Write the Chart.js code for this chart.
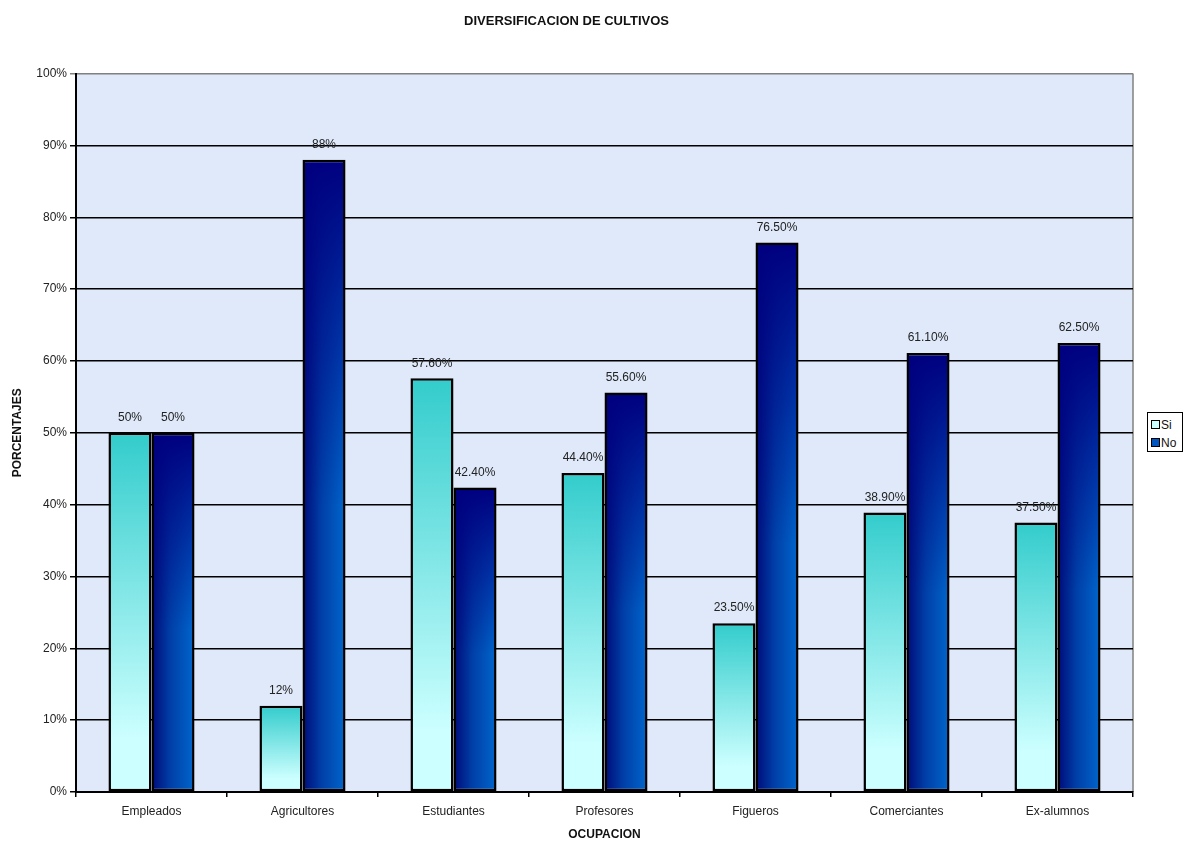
<!DOCTYPE html>
<html>
<head>
<meta charset="utf-8">
<script src="https://cdn.jsdelivr.net/npm/chart.js@4.4.1/dist/chart.umd.min.js"></script>
<style>
    body { margin: 0; background: #fff; font-family: "Liberation Sans", Arial, sans-serif; }
    #wrap { position: relative; width: 1183px; height: 842px; }
    #legend {
        position: absolute; left: 1147px; top: 412px; width: 36px; height: 40px;
        border: 1.5px solid #000; background: #fff; font-size: 12px; color: #111;
        box-sizing: border-box; padding-top: 3px;
    }
    #legend div { height: 18px; line-height: 18px; padding-left: 3px; }
    #legend span { display: inline-block; width: 7px; height: 7px; border: 1px solid #000; margin-right: 1px; vertical-align: 0; }
</style>
</head>
<body>
<div id="wrap">
    <canvas id="chart" width="1183" height="842"></canvas>
    <div id="legend">
        <div><span style="background:#ccffff"></span>Si</div>
        <div><span style="background:#0055c0"></span>No</div>
    </div>
</div>
<script>
// Diversificacion de cultivos - Si / No by ocupacion
const categories = ["Empleados", "Agricultores", "Estudiantes", "Profesores", "Figueros", "Comerciantes", "Ex-alumnos"];
const siValues = [50, 12, 57.6, 44.4, 23.5, 38.9, 37.5];
const noValues = [50, 88, 42.4, 55.6, 76.5, 61.1, 62.5];
const yTicks = [0, 10, 20, 30, 40, 50, 60, 70, 80, 90, 100];

const FONT = "'Liberation Sans', Arial, sans-serif";
const fmtPct = (v) => (Number.isInteger(v) ? v : v.toFixed(2)) + "%";

// plot area background
const plotBg = {
    id: "plotBg",
    beforeDraw(chart) {
        const { ctx, chartArea: a } = chart;
        ctx.save();
        ctx.fillStyle = "#dfe9f9";
        ctx.fillRect(a.left, a.top, a.right - a.left, a.bottom - a.top);
        ctx.strokeStyle = "#808080";
        ctx.lineWidth = 1.5;
        ctx.beginPath();
        ctx.moveTo(a.right, a.top);
        ctx.lineTo(a.right, a.bottom);
        ctx.stroke();
        ctx.restore();
    }
};

// per-bar gradients like the Excel fill
const barFill = {
    id: "barFill",
    beforeDatasetsDraw(chart) {
        const ctx = chart.ctx;
        chart.data.datasets.forEach((ds, di) => {
            chart.getDatasetMeta(di).data.forEach(el => {
                const left = el.x - el.width / 2;
                const h = Math.max(1, el.base - el.y);
                let fill;
                if (di === 0) {
                    fill = ctx.createLinearGradient(0, el.y, 0, el.base);
                    fill.addColorStop(0, "#33cccc");
                    fill.addColorStop(0.85, "#ccffff");
                    fill.addColorStop(1, "#ccffff");
                } else {
                    const off = document.createElement("canvas");
                    off.width = Math.ceil(el.width);
                    off.height = Math.ceil(h);
                    const o = off.getContext("2d");
                    const hg = o.createLinearGradient(0, 0, el.width, 0);
                    hg.addColorStop(0, "#000a78");
                    hg.addColorStop(0.45, "#0040a8");
                    hg.addColorStop(1, "#0066cc");
                    o.fillStyle = hg;
                    o.fillRect(0, 0, off.width, off.height);
                    const vg = o.createLinearGradient(0, 0, 0, h);
                    vg.addColorStop(0, "rgba(0,0,128,1)");
                    vg.addColorStop(0.55, "rgba(0,0,128,0)");
                    o.fillStyle = vg;
                    o.fillRect(0, 0, off.width, off.height);
                    fill = ctx.createPattern(off, "no-repeat");
                    fill.setTransform(new DOMMatrix().translate(left, el.y));
                }
                el.options = Object.assign({}, el.options, { backgroundColor: fill });
            });
        });
    }
};

// value labels over each bar
const valueLabels = {
    id: "valueLabels",
    afterDatasetsDraw(chart) {
        const ctx = chart.ctx;
        ctx.save();
        ctx.font = "12px " + FONT;
        ctx.fillStyle = "#222";
        ctx.textAlign = "center";
        ctx.textBaseline = "bottom";
        chart.data.datasets.forEach((ds, di) => {
            chart.getDatasetMeta(di).data.forEach((el, i) => {
                ctx.fillText(fmtPct(ds.data[i]), el.x, el.y - 9);
            });
        });
        ctx.restore();
    }
};

new Chart(document.getElementById("chart"), {
    type: "bar",
    data: {
        labels: categories,
        datasets: [
            { label: "Si", data: siValues, backgroundColor: "#33cccc" },
            { label: "No", data: noValues, backgroundColor: "#000080" }
        ]
    },
    options: {
        responsive: false,
        animation: false,
        layout: { padding: { right: 50 } },
        datasets: {
            bar: {
                categoryPercentage: 0.57,
                barPercentage: 1,
                borderColor: "#000",
                borderWidth: 2.5,
                borderSkipped: false
            }
        },
        plugins: {
            legend: { display: false },
            tooltip: { enabled: false },
            title: {
                display: true,
                text: "DIVERSIFICACION DE CULTIVOS",
                color: "#111",
                font: { family: FONT, size: 13, weight: "bold" },
                padding: { top: 14, bottom: 44 }
            }
        },
        scales: {
            x: {
                grid: { display: true, drawOnChartArea: false, color: "#000", lineWidth: 1.5, tickLength: 5 },
                border: { color: "#000", width: 2 },
                ticks: { color: "#222", font: { family: FONT, size: 12 }, padding: 7, maxRotation: 0 },
                title: {
                    display: true, text: "OCUPACION", color: "#111",
                    font: { family: FONT, size: 12, weight: "bold" },
                    padding: { top: 4, bottom: 0 }
                },
                afterFit: (s) => { s.height = 50; }
            },
            y: {
                min: 0,
                max: 100,
                afterBuildTicks: (s) => { s.ticks = yTicks.map(v => ({ value: v })); },
                grid: {
                    color: (c) => (c.tick && c.tick.value === 100 ? "#808080" : "#000"),
                    lineWidth: 1.5,
                    tickLength: 6
                },
                border: { color: "#000", width: 2 },
                ticks: {
                    color: "#222",
                    font: { family: FONT, size: 12 },
                    padding: 3,
                    callback: (v) => v + "%"
                },
                title: {
                    display: true, text: "PORCENTAJES", color: "#111",
                    font: { family: FONT, size: 12, weight: "bold" },
                    padding: { top: 10, bottom: 2 }
                },
                afterFit: (s) => { s.width = 76; }
            }
        }
    },
    plugins: [plotBg, barFill, valueLabels]
});
</script>
</body>
</html>
